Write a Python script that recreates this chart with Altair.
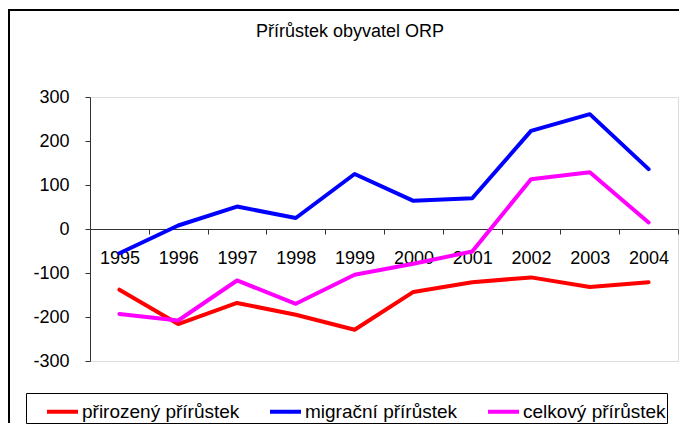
import altair as alt
import pandas as pd

years = ["1995", "1996", "1997", "1998", "1999", "2000", "2001", "2002", "2003", "2004"]
prirozeny = [-138, -216, -168, -195, -229, -143, -121, -110, -132, -121]
migracni = [-55, 8, 51, 25, 125, 64, 70, 223, 261, 136]
celkovy = [-193, -208, -117, -170, -104, -79, -51, 113, 129, 15]
series_names = ["přirozený přírůstek", "migrační přírůstek", "celkový přírůstek"]
series_colors = ["#FF0000", "#0000FF", "#FF00FF"]
series_widths = [4, 4, 6.5]

rows = []
for k, (name, vals) in enumerate(zip(series_names, [prirozeny, migracni, celkovy])):
    for y, v in zip(years, vals):
        rows.append({"rok": y, "hodnota": v, "serie": name, "order": k})
df = pd.DataFrame(rows)

FONT = "Liberation Sans"

legend = alt.Legend(
    title=None,
    orient="none",
    legendX=-64,
    legendY=296,
    direction="horizontal",
    columns=3,
    symbolType="stroke",
    symbolSize=961,
    symbolOffset=18,
    labelFontSize=19,
    labelFont=FONT,
    labelColor="black",
    labelOffset=2,
    columnPadding=10,
    strokeColor="black",
    padding=1,
    fillColor="white",
)

base_frame = alt.Chart(pd.DataFrame({"a": [0]}))
frame_top = base_frame.mark_rule(stroke="black", strokeWidth=2).encode(
    x=alt.value(-82), x2=alt.value(589), y=alt.value(-87), y2=alt.value(-87)
)
frame_left = base_frame.mark_rule(stroke="black", strokeWidth=2).encode(
    x=alt.value(-81), x2=alt.value(-81), y=alt.value(-88), y2=alt.value(326)
)

lines = alt.Chart(df).mark_line(strokeCap="round", strokeJoin="round").encode(
    x=alt.X(
        "rok:O",
        sort=years,
        scale=alt.Scale(type="band", paddingInner=0, paddingOuter=0),
        axis=alt.Axis(
            title=None,
            orient="bottom",
            offset=-132,
            tickBand="extent",
            labelAngle=0,
            labelFontSize=18,
            labelFont=FONT,
            labelColor="black",
            labelPadding=15,
            tickSize=5,
            domainColor="#333333",
            tickColor="#333333",
            grid=False,
        ),
    ),
    y=alt.Y(
        "hodnota:Q",
        scale=alt.Scale(domain=[-300, 300], nice=False, zero=False),
        axis=alt.Axis(
            title=None,
            values=[-300, -200, -100, 0, 100, 200, 300],
            labelExpr="'' + datum.value",
            labelFontSize=18,
            labelFont=FONT,
            labelColor="black",
            labelPadding=16,
            tickSize=5,
            domainColor="#333333",
            tickColor="#333333",
            grid=False,
        ),
    ),
    color=alt.Color(
        "serie:N",
        scale=alt.Scale(domain=series_names, range=series_colors),
        legend=legend,
    ),
    strokeWidth=alt.StrokeWidth(
        "serie:N",
        scale=alt.Scale(domain=series_names, range=series_widths),
        legend=legend,
    ),
    order=alt.Order("order:Q"),
)

chart = alt.layer(frame_top, frame_left, lines).properties(
    width=588,
    height=264,
    autosize=alt.AutoSizeParams(type="none"),
    padding={"left": 82, "top": 89, "right": 3, "bottom": 65},
    title=alt.Title(
        "Přírůstek obyvatel ORP",
        fontSize=18,
        font=FONT,
        fontWeight="normal",
        color="black",
        anchor="middle",
        frame="group",
        offset=-33,
        dx=-34,
    ),
).configure_view(stroke=None).configure(background="white")

chart.save("out.html", embed_options={"renderer": "svg", "actions": False})
